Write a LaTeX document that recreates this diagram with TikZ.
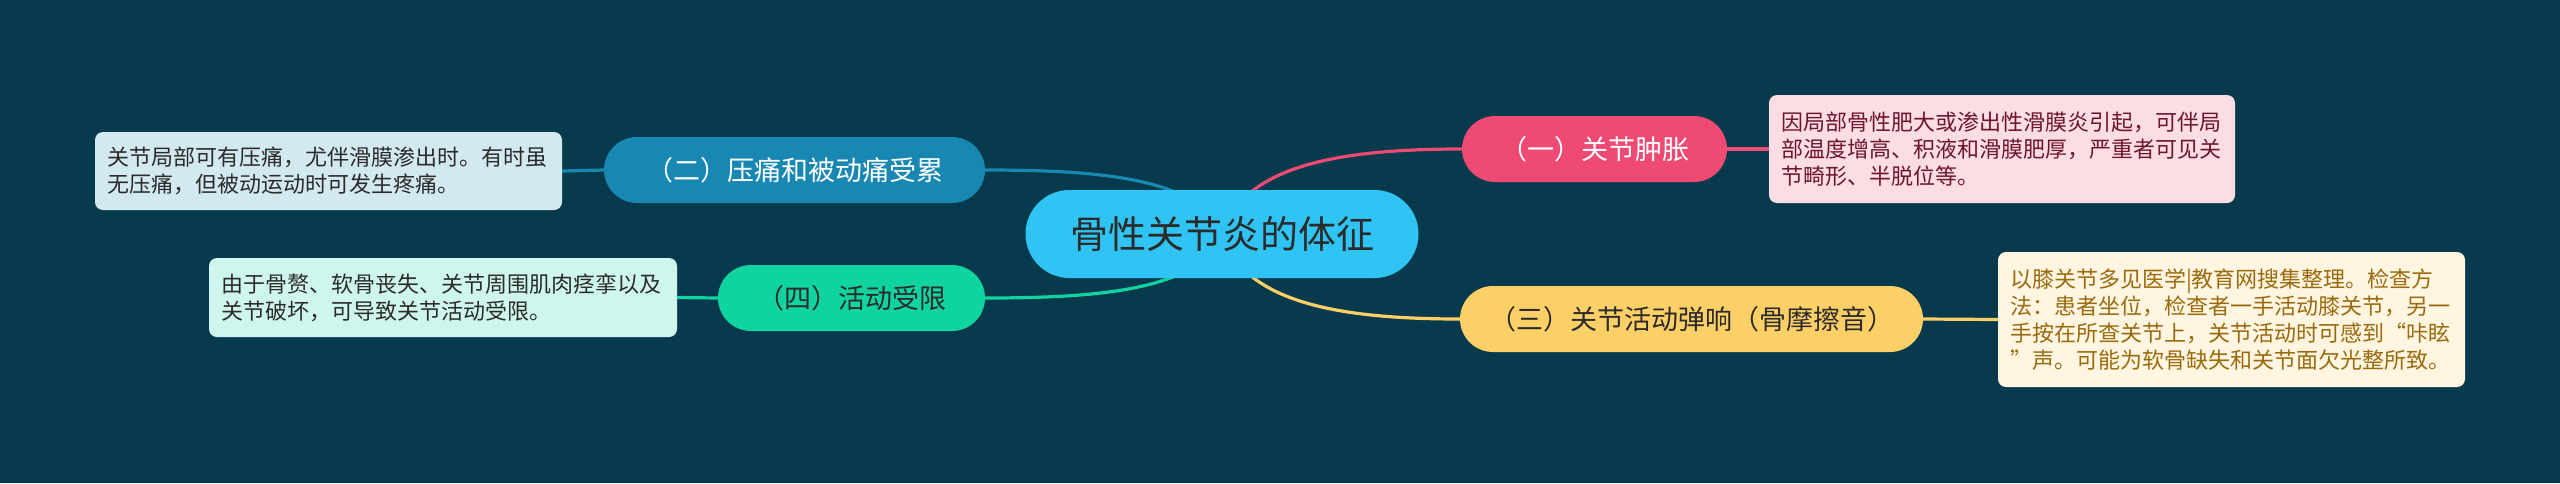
\documentclass[tikz,border=0pt]{standalone}
\usepackage{fontspec}
\setmainfont{Noto Sans CJK SC}
\usepackage{tikz}
\usetikzlibrary{backgrounds}
\definecolor{fond}{HTML}{073A4C}
\definecolor{racine}{HTML}{2FC4F4}
\definecolor{rose}{HTML}{EE4A74}
\definecolor{bleu}{HTML}{1888B3}
\definecolor{jaune}{HTML}{FDCF67}
\definecolor{vert}{HTML}{10D4A0}
\definecolor{encre}{HTML}{2B2B2B}

\tikzset{
    racinenode/.style={fill=racine,text=encre,rounded corners=44pt,minimum width=393pt,minimum height=88pt,inner sep=0pt,font=\fontsize{38}{44}\selectfont},
    themenode/.style={rounded corners=33pt,minimum height=66pt,inner sep=0pt,font=\fontsize{27}{32}\selectfont},
    notenode/.style={rounded corners=8pt,inner xsep=12pt,inner ysep=0pt,align=left,font=\fontsize{22}{27}\selectfont},
    branche/.style={line width=3.2pt}
}

\begin{document}
\begin{tikzpicture}[x=1pt,y=-1pt]
            \useasboundingbox (0,0) rectangle (2560,483);

            \node[racinenode] (root) at (1222,234) {骨性关节炎的体征};

            \node[themenode,fill=rose,text=white,minimum width=265pt] (b1) at (1594.5,149) {（一）关节肿胀};
            \node[themenode,fill=bleu,text=white,minimum width=381pt] (b2) at (794.5,170) {（二）压痛和被动痛受累};
            \node[themenode,fill=jaune,text=encre,minimum width=463pt] (b3) at (1691.5,319) {（三）关节活动弹响（骨摩擦音）};
            \node[themenode,fill=vert,text=encre,minimum width=267pt] (b4) at (851.5,298) {（四）活动受限};

            \node[notenode,fill={rgb,255:red,252;green,221;blue,228},text={rgb,255:red,110;green,21;blue,48},text width=442pt,minimum height=108pt] (n1) at (2002,149)
                {因局部骨性肥大或渗出性滑膜炎引起，可伴局\\部温度增高、积液和滑膜肥厚，严重者可见关\\节畸形、半脱位等。};
            \node[notenode,fill={rgb,255:red,211;green,233;blue,240},text=encre,text width=443pt,minimum height=78pt] (n2) at (328.5,171)
                {关节局部可有压痛，尤伴滑膜渗出时。有时虽\\无压痛，但被动运动时可发生疼痛。};
            \node[notenode,fill={rgb,255:red,255;green,245;blue,224},text={rgb,255:red,154;green,107;blue,14},text width=443pt,minimum height=135pt] (n3) at (2231.5,319.5)
                {以膝关节多见医学|教育网搜集整理。检查方\\法：患者坐位，检查者一手活动膝关节，另一\\手按在所查关节上，关节活动时可感到“咔眩\\”声。可能为软骨缺失和关节面欠光整所致。};
            \node[notenode,fill={rgb,255:red,207;green,246;blue,236},text=encre,text width=444pt,minimum height=79pt] (n4) at (443,297.5)
                {由于骨赘、软骨丧失、关节周围肌肉痉挛以及\\关节破坏，可导致关节活动受限。};

            \begin{scope}[on background layer]
                \fill[fond] (0,0) rectangle (2560,483);
                \draw[branche,rose] (root.center) .. controls (1244,165) and (1340,149) .. (b1.west);
                \draw[branche,bleu] (root.center) .. controls (1200,178) and (1100,170) .. (b2.east);
                \draw[branche,jaune] (root.center) .. controls (1244,303) and (1340,319) .. (b3.west);
                \draw[branche,vert] (root.center) .. controls (1200,290) and (1100,298) .. (b4.east);

                \draw[branche,rose] (b1.east) -- (n1.west);
                \draw[branche,bleu] (b2.west) -- (n2.east);
                \draw[branche,jaune] (b3.east) -- (n3.west);
                \draw[branche,vert] (b4.west) -- (n4.east);
            \end{scope}
        \end{tikzpicture}
\end{document}
